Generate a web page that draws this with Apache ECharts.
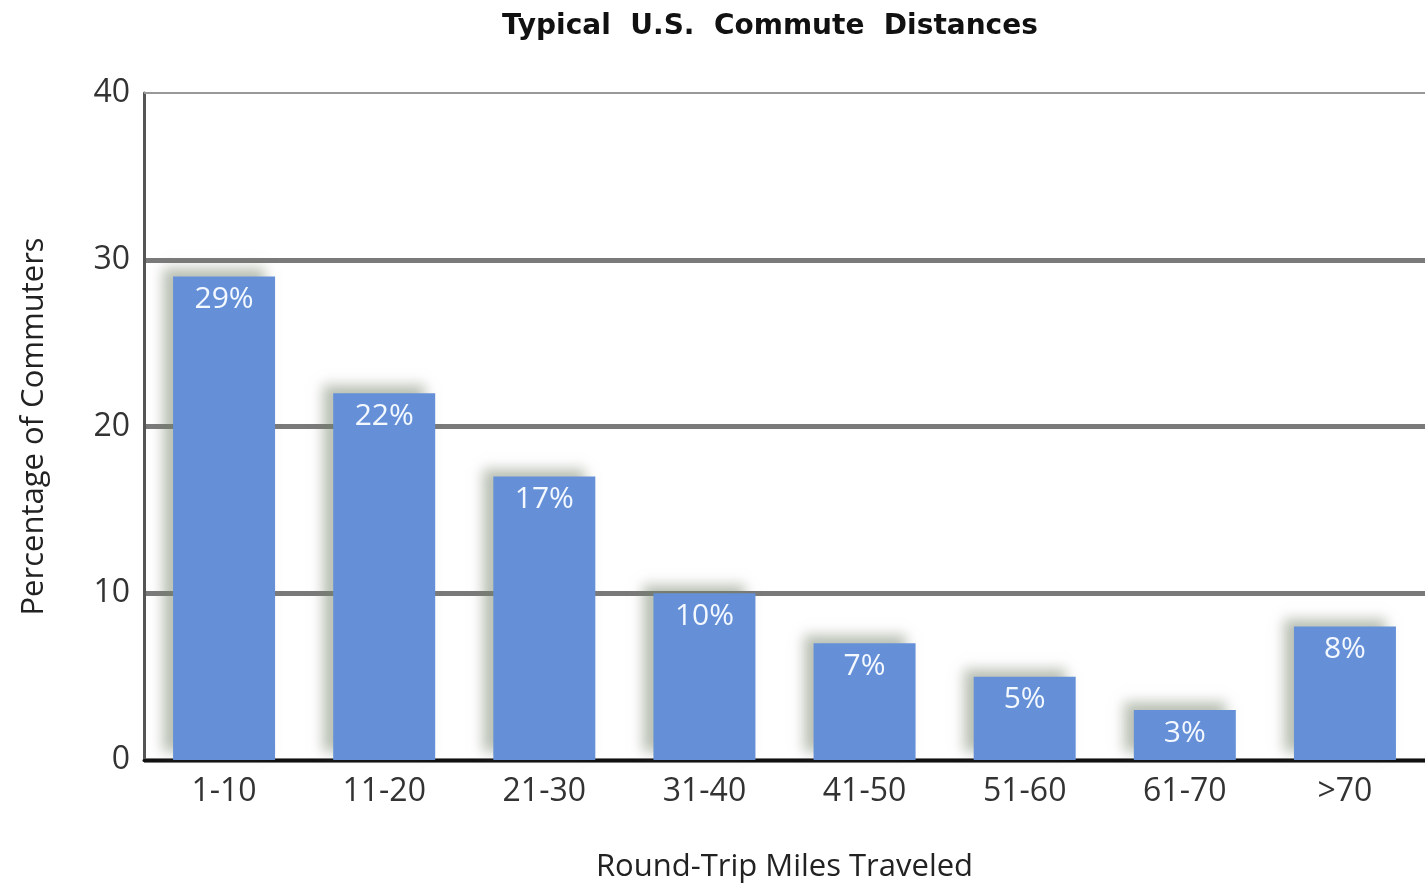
<!DOCTYPE html>
<html>
<head>
<meta charset="utf-8">
<script src="https://cdn.jsdelivr.net/npm/echarts@6/dist/echarts.min.js"></script>
<style>
html, body { margin: 0; padding: 0; background: #fff; }
#chart { width: 1425px; height: 888px; }
</style>
</head>
<body>
<div id="chart"></div>
<script>
// commute distance buckets and share of commuters (%)
var miles = ['1-10', '11-20', '21-30', '31-40', '41-50', '51-60', '61-70', '>70'];
var share = [29, 22, 17, 10, 7, 5, 3, 8];
var yTicks = [0, 10, 20, 30, 40];

var chart = echarts.init(document.getElementById('chart'));

chart.setOption({
  animation: false,
  backgroundColor: '#fff',
  title: {
    text: 'Typical  U.S.  Commute  Distances',
    left: 497,
    top: 8,
    textStyle: { fontFamily: 'DejaVu Sans', fontSize: 28, fontWeight: 'bold', color: '#111' }
  },
  grid: { left: 144, top: 93, width: 1296, height: 670 },
  xAxis: {
    type: 'category',
    data: miles,
    name: 'Round-Trip Miles Traveled',
    nameLocation: 'middle',
    nameGap: 92,
    nameTextStyle: { fontFamily: 'Open Sans', fontSize: 31, color: '#222' },
    axisLine: { lineStyle: { color: '#111', width: 3 } },
    axisTick: { show: false },
    axisLabel: { fontFamily: 'Open Sans', fontSize: 32, color: '#333', margin: 16 }
  },
  yAxis: {
    type: 'value',
    min: yTicks[0],
    max: yTicks[yTicks.length - 1],
    interval: 10,
    name: 'Percentage of Commuters',
    nameLocation: 'middle',
    nameGap: 94,
    nameTextStyle: { fontFamily: 'Open Sans', fontSize: 31, color: '#222' },
    axisLine: { show: true, lineStyle: { color: '#555', width: 3 } },
    axisTick: { show: false },
    axisLabel: { fontFamily: 'Open Sans', fontSize: 32, color: '#333', margin: 14 },
    splitLine: { show: true, showMaxLine: false, lineStyle: { color: '#7a7a7a', width: 5 } }
  },
  series: [{
    type: 'bar',
    data: share,
    barWidth: 102,
    itemStyle: {
      color: '#6590d8',
      shadowColor: 'rgba(115, 130, 105, 0.5)',
      shadowBlur: 12,
      shadowOffsetX: -10,
      shadowOffsetY: -8
    },
    label: {
      show: true,
      position: 'insideTop',
      distance: 8,
      formatter: '{c}%',
      fontFamily: 'Open Sans',
      fontSize: 30,
      color: '#f4f8ff'
    },
    markLine: {
      silent: true,
      symbol: 'none',
      label: { show: false },
      lineStyle: { color: '#999', width: 2, type: 'solid' },
      data: [{ yAxis: yTicks[yTicks.length - 1] }]
    }
  }]
});
</script>
</body>
</html>
